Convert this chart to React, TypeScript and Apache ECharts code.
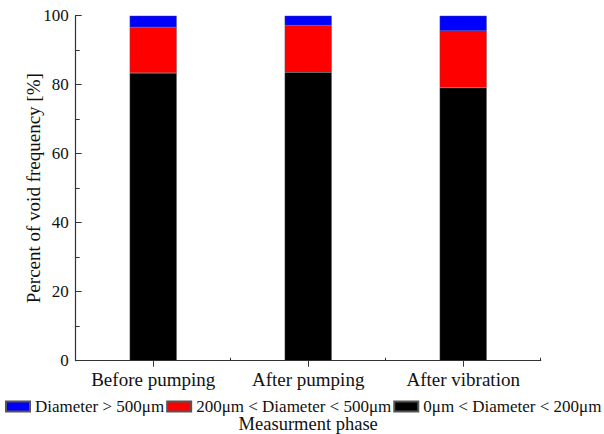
import React, { useEffect, useRef } from "react";
import * as echarts from "echarts";

const categories = ["Before pumping", "After pumping", "After vibration"];
const small = [83.4, 83.6, 79.1]; // 0μm < Diameter < 200μm
const medium = [13.3, 13.6, 16.5]; // 200μm < Diameter < 500μm
const large = [3.3, 2.8, 4.4]; // Diameter > 500μm
const seriesNames = ["Diameter > 500μm", "200μm < Diameter < 500μm", "0μm < Diameter < 200μm"];
const yTicks = { min: 0, max: 100, interval: 20 };

const FONT = "'Liberation Serif', 'Times New Roman', serif";

export default function App() {
  const ref = useRef<HTMLDivElement>(null);
  useEffect(() => {
    if (!ref.current) return;
    const chart = echarts.init(ref.current, null, { renderer: "svg" });
    const barStyle = (color: string) => ({ color, borderColor: "#555", borderWidth: 0.4 });
    chart.setOption({
      animation: false,
      textStyle: { fontFamily: FONT },
      grid: { left: 75.7, right: 63.3, top: 15.7, bottom: 73.3, outerBoundsMode: "none", containLabel: false },
      legend: {
        data: seriesNames,
        icon: "rect",
        left: 5,
        top: 398,
        width: 599,
        itemWidth: 24,
        itemHeight: 10,
        itemGap: 2,
        padding: 0,
        textStyle: { fontFamily: FONT, fontSize: 17, color: "#111" },
        selectedMode: false,
      },
      xAxis: [
        {
          type: "category",
          data: categories,
          name: "Measurment phase",
          nameLocation: "middle",
          nameGap: 53.5,
          nameMoveOverlap: false,
          nameTextStyle: { fontFamily: FONT, fontSize: 18.5, color: "#111" },
          axisLine: { show: true, lineStyle: { color: "#333", width: 1.2 } },
          axisTick: { show: true, alignWithLabel: true, inside: false, length: 6, lineStyle: { color: "#333" } },
          axisLabel: { fontFamily: FONT, fontSize: 19, color: "#111", margin: 9, interval: 0 },
        },
        {
          type: "category",
          data: categories,
          position: "bottom",
          axisLine: { show: false },
          axisTick: { show: true, inside: true, length: 3, lineStyle: { color: "#333" } },
          axisLabel: { show: false },
        },
      ],
      yAxis: {
        type: "value",
        min: yTicks.min,
        max: yTicks.max,
        interval: yTicks.interval,
        name: "Percent of void frequency [%]",
        nameLocation: "middle",
        nameGap: 33,
        nameMoveOverlap: false,
        nameTextStyle: { fontFamily: FONT, fontSize: 19, color: "#111" },
        axisLine: { show: true, lineStyle: { color: "#333", width: 1.2 } },
        axisTick: { show: true, inside: true, length: 6, lineStyle: { color: "#333" } },
        minorTick: { show: true, splitNumber: 2, length: 4, lineStyle: { color: "#333" } },
        splitLine: { show: false },
        axisLabel: { fontFamily: FONT, fontSize: 17, color: "#111", margin: 7 },
      },
      series: [
        { name: seriesNames[2], type: "bar", stack: "v", data: small, barWidth: 47, itemStyle: barStyle("#000000") },
        { name: seriesNames[1], type: "bar", stack: "v", data: medium, barWidth: 47, itemStyle: barStyle("#ff0000") },
        { name: seriesNames[0], type: "bar", stack: "v", data: large, barWidth: 47, itemStyle: barStyle("#0000ff") },
      ],
    });
    return () => chart.dispose();
  }, []);
  return <div ref={ref} style={{ width: 604, height: 434, position: "absolute", left: 0, top: 0 }} />;
}
